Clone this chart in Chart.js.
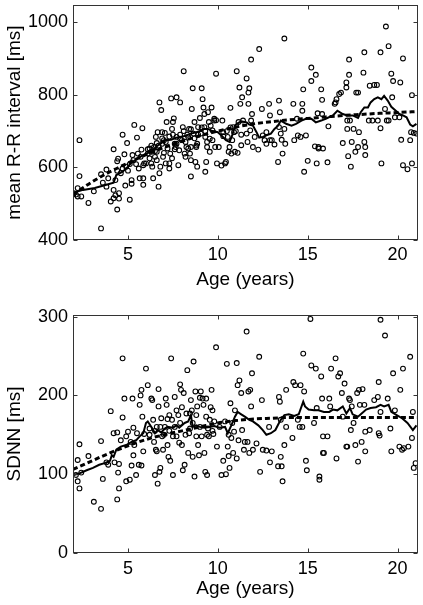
<!DOCTYPE html>
<html>
<head>
<meta charset="utf-8">
<script src="https://cdn.jsdelivr.net/npm/chart.js@4.4.1/dist/chart.umd.min.js"></script>
<style>
  html, body { margin: 0; padding: 0; background: #fff; }
  #wrap { position: relative; width: 423px; height: 605px; }
  canvas { position: absolute; left: 0; }
  #rr-chart { top: 0; }
  #sdnn-chart { top: 300px; }
</style>
</head>
<body>
<div id="wrap">
  <canvas id="rr-chart" width="423" height="300"></canvas>
  <canvas id="sdnn-chart" width="423" height="305"></canvas>
</div>
<script>
// axis ranges / tick labels
let ageMin = 1.94, ageMax = 21.13;
let ageTicks = [5, 10, 15, 20];
let rrTicks = [400, 600, 800, 1000];
let sdnnTicks = [0, 100, 200, 300];

// mean R-R interval, one circle per subject
let rrAge = [
  2.3, 2.3, 2.2, 2.1, 2.4, 2.2, 2.8, 1.98,
  3.1, 3.5, 3.5, 3.8, 3.9, 3.6, 3.8,
  4.2, 4.04, 4.2, 4.3, 4.4, 4.4, 4.5, 4.4, 4.5, 4.3, 4.7, 4.8, 4.85, 4.6, 4.7, 4.9, 4.45, 4.2,
  4.95, 5.0, 5.1, 5.2, 5.1, 5.2, 5.35, 5.5, 5.6, 5.65, 5.8, 5.85, 5.85, 5.3, 5.25, 5.45, 5.75, 5.85, 5.9, 5.7, 5.55,
  6.0, 6.1, 6.2, 6.3, 6.35, 6.4, 6.5, 6.45, 6.55, 6.6, 6.6, 6.65, 6.7, 6.75, 6.8, 6.75, 6.85, 6.9, 6.9, 6.95, 6.2, 6.3,
  7.0, 7.05, 7.1, 7.15, 7.2, 7.3, 7.35, 7.4, 7.45, 7.5, 7.55, 7.6, 7.65, 7.7, 7.8, 7.85, 7.9, 7.9, 7.3, 7.45, 7.7,
  8.0, 8.05, 8.1, 8.15, 8.2, 8.25, 8.35, 8.4, 8.45, 8.5, 8.5, 8.55, 8.6, 8.65, 8.7, 8.75, 8.8, 8.85, 8.85, 8.9, 8.35, 8.5,
  9.0, 9.05, 9.1, 9.15, 9.2, 9.25, 9.3, 9.3, 9.35, 9.4, 9.45, 9.5, 9.55, 9.55, 9.65, 9.7, 9.7, 9.8, 9.8, 9.85, 9.9, 9.95, 9.25,
  10.05, 10.2, 10.25, 10.3, 10.4, 10.45, 10.55, 10.6, 10.65, 10.7, 10.75, 10.8, 10.85, 10.9, 10.95, 10.3,
  11.05, 11.1, 11.15, 11.2, 11.25, 11.3, 11.35, 11.4, 11.6, 11.65, 11.7, 11.75, 11.8, 11.85, 11.85, 11.9, 11.95, 11.6, 11.7,
  12.05, 12.25, 12.3, 12.45, 12.5, 12.6, 12.7, 12.85, 12.9, 12.9, 12.7,
  13.0, 13.15, 13.35, 13.4, 13.45, 13.5, 13.55, 13.6, 13.7, 13.7, 13.75, 13.4,
  14.2, 14.25, 14.45, 14.6, 14.7, 14.7, 14.75, 14.8, 14.9, 14.4,
  15.0, 15.2, 15.2, 15.4, 15.45, 15.5, 15.55, 15.6, 15.75, 15.8, 15.85, 15.6, 15.8,
  16.1, 16.15, 16.55, 16.6, 16.75, 16.85, 16.95, 16.5,
  17.15, 17.2, 17.25, 17.3, 17.3, 17.35, 17.4, 17.45, 17.55, 17.65, 17.7, 17.8, 17.8, 17.85, 17.15, 17.2,
  18.1, 18.15, 18.15, 18.2, 18.2, 18.4, 18.45, 18.7, 18.85, 18.9, 18.6,
  19.05, 19.05, 19.1, 19.3, 19.35, 19.5, 19.5, 19.65, 19.7, 19.75, 19.85, 19.4,
  20.1, 20.15, 20.2, 20.3, 20.3, 20.55, 20.7, 20.8, 20.8, 20.9, 21.05, 20.75,
  6.1, 6.3, 6.5, 6.7, 6.9, 7.1, 7.3, 7.5, 7.7, 7.9, 8.1, 8.3, 8.5, 8.7, 8.9, 9.1, 9.3, 9.6, 9.9, 10.5, 10.7, 11.0, 11.3, 6.6, 7.0, 7.6, 8.2, 8.8, 9.4
];
let rrMs = [
  675, 576, 543, 525, 520, 520, 502, 529,
  534, 581, 432, 594, 570, 558, 547,
  650, 506, 538, 523, 591, 617, 529, 484, 514, 565, 690, 636, 550, 584, 597, 602, 624, 515,
  667, 591, 609, 565, 511, 555, 717, 682, 597, 570, 708, 570, 552, 620, 634, 609, 649, 606, 611, 629, 638,
  611, 638, 652, 643, 602, 570, 629, 656, 684, 667, 643, 697, 547, 584, 602, 779, 758, 665, 697, 629, 625, 611,
  675, 695, 611, 725, 652, 597, 638, 790, 706, 725, 735, 665, 656, 793, 606, 647, 779, 679, 611, 625, 684,
  675, 711, 865, 638, 629, 656, 684, 706, 638, 575, 620, 761, 818, 693, 725, 615, 656, 665, 602, 711, 652, 656,
  736, 693, 818, 788, 765, 747, 588, 684, 615, 656, 752, 725, 643, 679, 765, 702, 675, 729, 734, 656, 858, 611, 711,
  656, 605, 729, 697, 611, 615, 684, 643, 656, 764, 638, 675, 711, 697, 643, 686,
  865, 640, 725, 820, 775, 661, 793, 729, 845, 670, 806, 818, 702, 729, 897, 747, 656, 693, 775,
  684, 649, 926, 761, 688, 675, 665, 775, 743, 675, 697,
  675, 663, 615, 784, 752, 693, 676, 638, 706, 955, 665, 711,
  775, 675, 688, 684, 775, 756, 815, 588, 688, 734,
  618, 875, 838, 658, 855, 611, 749, 656, 815, 786, 652, 652, 747,
  614, 713, 779, 788, 802, 806, 667, 775,
  834, 706, 631, 855, 897, 729, 602, 670, 706, 643, 806, 806, 656, 697, 820, 729,
  861, 917, 670, 656, 634, 729, 825, 827, 827, 729, 729,
  708, 917, 611, 761, 988, 934, 729, 858, 793, 838, 738, 729,
  738, 834, 676, 900, 606, 595, 675, 611, 799, 695, 693, 697,
  650, 660, 645, 660, 680, 670, 685, 690, 665, 690, 700, 690, 705, 680, 690, 710, 700, 715, 730, 700, 710, 700, 690, 620, 640, 650, 670, 660, 670
];

// running mean (solid) and fitted curve (dashed), R-R
let rrTrendAge = [1.98, 2.5, 3.15, 3.8, 4.2, 4.35, 4.55, 4.7, 5.0, 5.2, 5.45, 5.75, 6.0, 6.3, 6.55, 6.85, 7.1, 7.4, 7.7, 7.95,
  8.25, 8.5, 8.8, 9.0, 9.25, 9.45, 9.7, 10.0, 10.2, 10.45, 10.65, 10.8, 10.95, 11.05, 11.3, 11.6, 11.75, 11.95, 12.15, 12.3,
  12.5, 12.7, 12.95, 13.15, 13.35, 13.5, 13.8, 14.1, 14.35, 14.65, 14.9, 15.2, 15.45, 15.75, 16.0, 16.4, 16.65, 16.95, 17.2, 17.5,
  17.8, 17.95, 18.15, 18.35, 18.5, 18.7, 18.9, 19.1, 19.25, 19.45, 19.65, 19.9, 20.1, 20.3, 20.5, 20.7, 20.85, 21.05];
let rrTrendMs = [531, 538, 543, 552, 558, 579, 584, 588, 602, 613, 622, 631, 638, 643, 656, 667, 675, 676, 682, 684,
  688, 693, 697, 700, 706, 706, 700, 697, 688, 675, 670, 688, 715, 720, 727, 724, 718, 715, 697, 682,
  684, 688, 693, 706, 715, 729, 720, 715, 720, 729, 734, 734, 724, 729, 734, 743, 756, 747, 743, 743,
  736, 752, 765, 765, 779, 788, 793, 788, 797, 784, 767, 756, 747, 743, 738, 718, 713, 720];
let fitAge = [1.94, 3, 4, 5, 6, 7, 8, 9, 10, 11, 12, 13, 14, 15, 16, 17, 18, 19, 20, 21.13];
let rrFitMs = [525, 560, 588, 612, 635, 655, 672, 687, 700, 711, 720, 726, 731, 735, 739, 743, 746, 749, 751, 754];

// SDNN, one circle per subject
let sdnnAge = [
  2.3, 2.2, 2.2, 2.3, 2.4, 2.1,
  2.8, 3.1, 3.5, 3.5, 3.6, 3.8, 3.9,
  4.04, 4.2, 4.25, 4.4, 4.4, 4.45, 4.5, 4.5, 4.6, 4.7, 4.7, 4.8, 4.9, 4.9,
  5.0, 5.1, 5.15, 5.2, 5.25, 5.3, 5.3, 5.35, 5.45, 5.5, 5.6, 5.65, 5.7, 5.75, 5.8, 5.85, 5.75, 5.9,
  6.0, 6.1, 6.2, 6.3, 6.35, 6.4, 6.45, 6.5, 6.55, 6.6, 6.6, 6.65, 6.7, 6.7, 6.75, 6.8, 6.85, 6.9, 6.95,
  7.05, 7.1, 7.15, 7.2, 7.25, 7.3, 7.35, 7.4, 7.45, 7.5, 7.5, 7.6, 7.7, 7.7, 7.8, 7.85, 7.9, 7.95,
  8.0, 8.05, 8.1, 8.15, 8.25, 8.3, 8.35, 8.4, 8.45, 8.45, 8.5, 8.55, 8.6, 8.65, 8.7, 8.75, 8.8, 8.85, 8.9, 8.95,
  9.0, 9.05, 9.1, 9.15, 9.2, 9.25, 9.3, 9.35, 9.35, 9.4, 9.45, 9.5, 9.55, 9.65, 9.7, 9.75, 9.8, 9.9, 9.95,
  10.2, 10.3, 10.4, 10.45, 10.5, 10.55, 10.6, 10.65, 10.7, 10.75, 10.8, 10.85, 10.9, 10.95,
  11.05, 11.05, 11.1, 11.15, 11.2, 11.3, 11.35, 11.45, 11.5, 11.6, 11.65, 11.7, 11.75, 11.8, 11.85, 11.9, 11.95,
  12.15, 12.3, 12.35, 12.45, 12.5, 12.7, 12.85, 12.9, 13.0,
  13.35, 13.4, 13.45, 13.5, 13.55, 13.6, 13.7, 13.8, 13.8, 13.5,
  14.15, 14.2, 14.3, 14.45, 14.55, 14.6, 14.7, 14.75, 14.8, 14.9, 14.95,
  15.15, 15.2, 15.35, 15.45, 15.5, 15.65, 15.65, 15.75, 15.8, 15.85, 15.85, 15.9,
  16.1, 16.2, 16.25, 16.3, 16.55, 16.6, 16.7, 16.8, 16.9, 16.95,
  17.05, 17.15, 17.2, 17.3, 17.35, 17.4, 17.45, 17.55, 17.65, 17.75, 17.8, 17.85, 17.9, 18.0, 18.05, 18.15, 18.2, 18.2,
  18.45, 18.7, 18.9, 18.95, 18.95, 19.0, 19.05, 19.05,
  19.3, 19.45, 19.6, 19.65, 19.75, 19.85, 20.1, 20.15, 20.25, 20.3, 20.35,
  20.6, 20.7, 20.8, 20.85, 20.9, 21.0,
  6.2, 6.5, 6.8, 7.0, 7.3, 7.6, 7.9, 8.2, 8.6, 9.0, 9.4, 9.7, 10.1, 10.6, 7.2, 8.0, 8.8, 9.6
];
let sdnnMs = [
  138, 118, 91, 82, 102, 99,
  123, 65, 142, 56, 94, 115, 112,
  180, 152, 115, 153, 68, 102, 82, 113, 143, 247, 172, 196, 148, 91,
  154, 93, 141, 111, 196, 159, 124, 137, 99, 152, 112, 188, 200, 207, 173, 129, 111, 151,
  234, 213, 158, 196, 194, 169, 141, 99, 131, 160, 129, 88, 208, 186, 103, 108, 171, 148, 131,
  160, 196, 188, 137, 122, 175, 117, 247, 169, 148, 99, 198, 181, 148, 175, 140, 214, 207,
  137, 105, 203, 112, 177, 232, 127, 152, 158, 177, 194, 181, 122, 243, 97, 205, 148, 186, 137, 124,
  197, 205, 148, 196, 188, 127, 103, 196, 173, 99, 158, 148, 169, 207, 181, 151, 167, 261, 135,
  99, 117, 167, 100, 240, 135, 123, 108, 190, 146, 165, 127, 154, 181,
  120, 241, 213, 143, 219, 203, 156, 131, 141, 281, 141, 205, 127, 207, 186, 228, 131,
  139, 249, 103, 194, 131, 130, 160, 115, 129,
  110, 198, 192, 122, 110, 91, 137, 207, 160, 169,
  146, 217, 213, 169, 160, 213, 160, 253, 205, 117, 105,
  297, 238, 165, 234, 184, 97, 93, 224, 196, 148, 127, 127,
  148, 196, 186, 234, 247, 120, 224, 228, 203, 173,
  215, 135, 135, 196, 194, 156, 186, 165, 137, 203, 116, 207, 188, 141, 208, 188, 154, 129,
  156, 194, 198, 217, 152, 149, 179, 296,
  276, 196, 158, 129, 228, 181, 135, 207, 131, 234, 133,
  135, 249, 146, 179, 108, 114,
  150, 155, 160, 150, 155, 160, 165, 150, 165, 160, 150, 155, 160, 150, 170, 185, 175, 185
];

// running mean (solid) and fitted curve (dashed), SDNN
let sdnnTrendAge = [1.98, 2.3, 2.7, 3.05, 3.4, 3.7, 4.0, 4.1, 4.2, 4.35, 4.6, 4.9, 5.2, 5.45, 5.65, 5.85, 6.0, 6.1, 6.3, 6.5,
  6.65, 6.85, 7.05, 7.2, 7.5, 7.7, 7.85, 8.15, 8.35, 8.5, 8.6, 8.8, 9.0, 9.25, 9.55, 9.8, 10.1, 10.4, 10.55, 10.75,
  10.95, 11.1, 11.3, 11.5, 11.75, 11.95, 12.25, 12.5, 12.7, 12.95, 13.2, 13.4, 13.5, 13.7, 13.95, 14.25, 14.5, 14.75, 14.85, 15.05,
  15.35, 15.6, 15.9, 16.2, 16.4, 16.65, 16.95, 17.15, 17.35, 17.5, 17.8, 18.0, 18.25, 18.5, 18.8, 19.05, 19.25, 19.5, 19.65, 19.95,
  20.25, 20.55, 20.85, 21.05];
let sdnnTrendMs = [99, 101, 105, 108, 112, 114, 117, 124, 122, 131, 135, 137, 141, 143, 148, 152, 165, 167, 160, 152,
  156, 153, 158, 160, 159, 162, 159, 165, 167, 175, 160, 162, 160, 159, 160, 161, 159, 160, 152, 162,
  173, 179, 176, 173, 169, 167, 162, 156, 150, 152, 156, 165, 169, 175, 176, 174, 176, 192, 186, 182,
  181, 181, 179, 179, 182, 181, 186, 177, 184, 176, 173, 177, 182, 184, 185, 188, 186, 188, 179, 175,
  171, 165, 156, 162];
let sdnnFitMs = [106, 117, 127, 136, 144, 150, 155, 160, 165, 168, 170, 171, 172, 172, 172, 172, 172, 172, 172, 172];

Chart.defaults.font.family = "'Liberation Sans', Arial, sans-serif";
Chart.defaults.color = '#000';

let toPoints = function (xs, ys) {
    return xs.map((x, i) => ({x: x, y: ys[i]}));
};

// box around the plot with MATLAB-like inward tick marks
let framePlugin = {
    id: 'frame',
    afterDatasetsDraw: function (chart) {
        let ctx = chart.ctx;
        let a = chart.chartArea;
        let sx = chart.scales.x, sy = chart.scales.y;
        let L = Math.round(a.left) + 0.5, R = Math.round(a.right) - 0.5;
        let T = Math.round(a.top) + 0.5, B = Math.round(a.bottom) - 0.5;
        ctx.save();
        ctx.strokeStyle = '#333';
        ctx.lineWidth = 1;
        ctx.strokeRect(L, T, R - L, B - T);
        ctx.beginPath();
        for (let t of sx.ticks) {
            let x = Math.round(sx.getPixelForValue(t.value)) + 0.5;
            ctx.moveTo(x, B); ctx.lineTo(x, B - 4);
            ctx.moveTo(x, T); ctx.lineTo(x, T + 4);
        }
        for (let t of sy.ticks) {
            let y = Math.round(sy.getPixelForValue(t.value)) + 0.5;
            ctx.moveTo(L, y); ctx.lineTo(L + 4, y);
            ctx.moveTo(R, y); ctx.lineTo(R - 4, y);
        }
        ctx.stroke();
        ctx.restore();
    }
};

let makeChart = function (id, o) {
    return new Chart(document.getElementById(id).getContext('2d'), {
        type: 'scatter',
        data: {
            datasets: [{
                data: toPoints(o.trendAge, o.trendVal),
                showLine: true,
                borderColor: '#000',
                borderWidth: 2,
                pointRadius: 0,
                tension: 0
            }, {
                data: toPoints(fitAge, o.fitVal),
                showLine: true,
                borderColor: '#000',
                borderWidth: 3,
                borderDash: [5, 3],
                pointRadius: 0,
                cubicInterpolationMode: 'monotone'
            }, {
                data: toPoints(o.age, o.val),
                pointStyle: 'circle',
                pointRadius: 2.4,
                borderWidth: 1.1,
                borderColor: '#000',
                backgroundColor: 'rgba(0,0,0,0)'
            }]
        },
        options: {
            responsive: false,
            animation: false,
            events: [],
            layout: {padding: {top: o.top, right: 4, left: 0, bottom: 0}},
            plugins: {legend: {display: false}, tooltip: {enabled: false}},
            scales: {
                x: {
                    type: 'linear',
                    min: ageMin,
                    max: ageMax,
                    grid: {display: false, drawTicks: false},
                    border: {display: false},
                    afterBuildTicks: s => { s.ticks = ageTicks.map(v => ({value: v})); },
                    afterFit: s => { s.height = o.xHeight; s.paddingLeft = 0; s.paddingRight = 0; },
                    ticks: {font: {size: 18}, padding: o.tickPad, maxRotation: 0, autoSkip: false,
                            callback: v => String(v)},
                    title: {display: true, text: 'Age (years)', font: {size: 19}, padding: {top: 0, bottom: o.titlePad}}
                },
                y: {
                    type: 'linear',
                    min: o.yMin,
                    max: o.yMax,
                    grid: {display: false, drawTicks: false},
                    border: {display: false},
                    afterBuildTicks: s => { s.ticks = o.yTicks.map(v => ({value: v})); },
                    afterFit: s => { s.width = 73; s.paddingTop = 0; s.paddingBottom = 0; },
                    ticks: {font: {size: 18}, padding: 5, autoSkip: false, callback: v => String(v)},
                    title: {display: true, text: o.yTitle, font: {size: 19}, padding: {top: 3, bottom: 0}}
                }
            }
        },
        plugins: [framePlugin]
    });
};

makeChart('rr-chart', {
    age: rrAge, val: rrMs, trendAge: rrTrendAge, trendVal: rrTrendMs, fitVal: rrFitMs,
    yMin: 400, yMax: 1047, yTicks: rrTicks, yTitle: 'mean R-R interval [ms]',
    top: 3, xHeight: 60, tickPad: 4, titlePad: 8.6
});

makeChart('sdnn-chart', {
    age: sdnnAge, val: sdnnMs, trendAge: sdnnTrendAge, trendVal: sdnnTrendMs, fitVal: sdnnFitMs,
    yMin: 0, yMax: 302, yTicks: sdnnTicks, yTitle: 'SDNN [ms]',
    top: 15, xHeight: 52, tickPad: 5, titlePad: 4.6
});
</script>
</body>
</html>
